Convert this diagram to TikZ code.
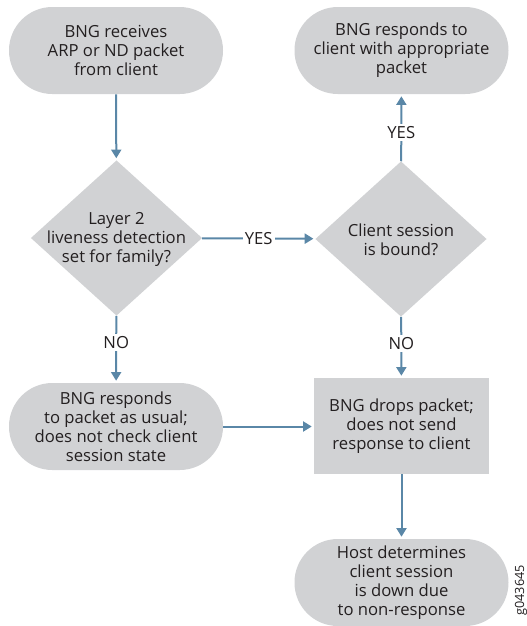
\documentclass[tikz,border=0pt]{standalone}
\usepackage{fontspec}
\setmainfont{Open Sans}
\usetikzlibrary{shapes.geometric,arrows.meta}
\definecolor{boxgray}{HTML}{D1D2D4}
\definecolor{arrowblue}{HTML}{5A87A7}
\definecolor{txt}{HTML}{231F20}
\tikzset{
  base/.style={font=\fontsize{12.5pt}{14.25pt}\selectfont, text=txt, align=center},
  stadium/.style={base, rectangle, rounded corners=32.5pt, fill=boxgray, minimum width=160.5pt, minimum height=65.25pt, inner sep=0pt},
  boxnode/.style={base, rectangle, fill=boxgray, minimum width=131.25pt, minimum height=72pt, inner sep=0pt},
  decision/.style={diamond, fill=boxgray, minimum width=128.5pt, minimum height=116.5pt, inner sep=0pt},
  dtext/.style={base, inner sep=0pt},
  flow/.style={draw=arrowblue, line width=1.5pt, -{Triangle[width=7.5pt,length=6.5pt]}, shorten >=1.5pt},
  lbl/.style={base, fill=white, inner sep=1.5pt}
}
\begin{document}
\begin{tikzpicture}[x=0.75pt,y=-0.75pt]
\useasboundingbox (0,0) rectangle (526,626);
\node[stadium] (n1) at (116,50.5) {BNG receives\\ARP or ND packet\\from client};
\node[stadium] (n2) at (401.5,50.5) {BNG responds to\\client with appropriate\\packet};
\node[decision] (d1) at (116.5,238) {};
\node[dtext] (d1t) at (116.5,239.5) {Layer 2\\liveness detection\\set for family?};
\node[decision] (d2) at (401,239) {};
\node[dtext] (d2t) at (401,239.5) {Client session\\is bound?};
\node[stadium] (n3) at (116,426.5) {BNG responds\\to packet as usual;\\does not check client\\session state};
\node[boxnode] (r) at (401.5,426) {BNG drops packet;\\does not send\\response to client};
\node[stadium] (n4) at (401.5,582.5) {Host determines\\client session\\is down due\\to non-response};
\node[font=\fontsize{9.5pt}{11pt}\selectfont, text=txt, rotate=90, anchor=east, inner sep=0pt] (gid) at (521,565) {g043645};

\draw[flow] (n1) -- (d1);
\draw[flow] (d1) -- node[lbl] (yes1) {YES} (d2);
\draw[flow] (d2) -- node[lbl, pos=0.43] (yes2) {YES} (n2);
\draw[flow] (d1) -- node[lbl, pos=0.4] (no1) {NO} (n3);
\draw[flow] (d2) -- node[lbl, pos=0.44] (no2) {NO} (r);
\draw[flow] (n3.east) -- (r.west |- n3.east);
\draw[flow] (r) -- (n4);
\end{tikzpicture}
\end{document}
